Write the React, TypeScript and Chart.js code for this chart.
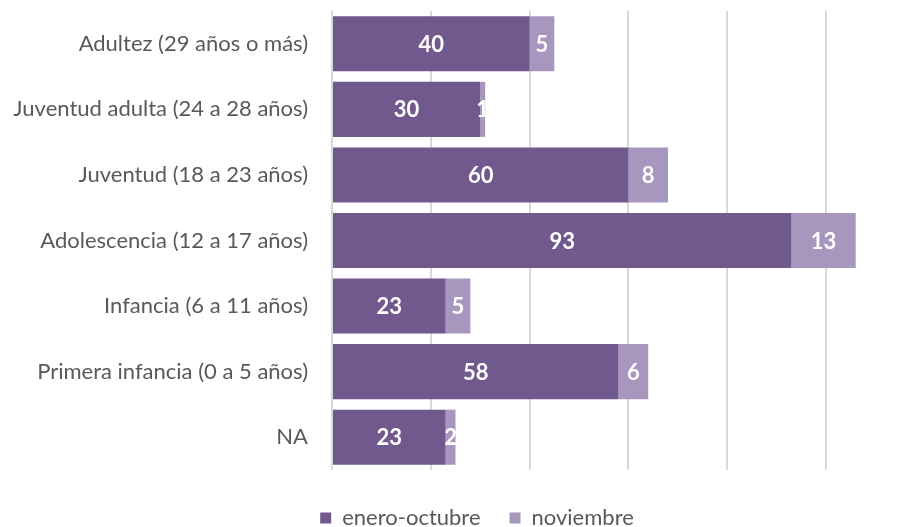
import React, { useEffect, useRef } from "react";
import { Chart, registerables } from "chart.js";

Chart.register(...registerables);

const categories = [
  "Adultez (29 años o más)",
  "Juventud adulta (24 a 28 años)",
  "Juventud (18 a 23 años)",
  "Adolescencia (12 a 17 años)",
  "Infancia (6 a 11 años)",
  "Primera infancia (0 a 5 años)",
  "NA",
];
const eneroOctubre = [40, 30, 60, 93, 23, 58, 23];
const noviembre = [5, 1, 8, 13, 5, 6, 2];
const seriesNames = ["enero-octubre", "noviembre"];
const colors = ["#71598e", "#a797bf"];

const FONT = "Lato, 'Open Sans', sans-serif";

const dataLabelPlugin = {
  id: "dataLabels",
  afterDatasetsDraw(chart: any) {
    const ctx = chart.ctx;
    ctx.save();
    ctx.font = `bold 22px ${FONT}`;
    ctx.fillStyle = "#ffffff";
    ctx.textAlign = "center";
    ctx.textBaseline = "middle";
    chart.data.datasets.forEach((ds: any, di: number) => {
      const meta = chart.getDatasetMeta(di);
      meta.data.forEach((bar: any, i: number) => {
        const p = bar.getProps(["x", "y", "base"], true);
        const cx = (p.x + p.base) / 2;
        ctx.fillText(String(ds.data[i]), cx, p.y + 1);
      });
    });
    ctx.restore();
  },
};

const legendShiftPlugin = {
  id: "legendShift",
  afterLayout(chart: any) {
    const l = chart.legend;
    if (!l) return;
    const dx = 20;
    const dy = -7;
    l.left += dx;
    l.right += dx;
    l.top += dy;
    l.bottom += dy;
  },
};

export default function App() {
  const ref = useRef<HTMLCanvasElement>(null);
  useEffect(() => {
    document.body.style.margin = "0";
    const chart = new Chart(ref.current!, {
      type: "bar",
      data: {
        labels: categories,
        datasets: [
          {
            label: seriesNames[0],
            data: eneroOctubre,
            backgroundColor: colors[0],
            categoryPercentage: 0.84,
            barPercentage: 1,
          },
          {
            label: seriesNames[1],
            data: noviembre,
            backgroundColor: colors[1],
            categoryPercentage: 0.84,
            barPercentage: 1,
          },
        ],
      },
      options: {
        indexAxis: "y",
        animation: false,
        responsive: false,
        maintainAspectRatio: false,
        layout: { autoPadding: false, padding: { top: 11, right: 0, bottom: -19, left: 0 } },
        scales: {
          x: {
            stacked: true,
            min: 0,
            max: 117.8,
            afterFit: (s: any) => {
              s.height = 15;
            },
            ticks: { display: false, stepSize: 20 },
            grid: {
              drawTicks: false,
              lineWidth: 2,
              color: (c: any) =>
                c.tick && c.tick.value % 20 === 0 ? "#d9d9d9" : "rgba(0,0,0,0)",
            },
            border: { display: false },
          },
          y: {
            stacked: true,
            afterFit: (s: any) => {
              s.width = 332;
              s.paddingTop = 0;
              s.paddingBottom = 0;
            },
            ticks: {
              padding: 24,
              color: "#595959",
              font: { family: FONT, size: 22 },
            },
            grid: { display: false, drawTicks: false },
            border: { display: false },
          },
        },
        plugins: {
          legend: {
            position: "bottom",
            labels: {
              boxWidth: 11,
              boxHeight: 11,
              color: "#595959",
              font: { family: FONT, size: 22 },
              padding: 29,
            },
          },
          tooltip: { enabled: false },
        },
      },
      plugins: [dataLabelPlugin, legendShiftPlugin],
    });
    return () => chart.destroy();
  }, []);
  return (
    <div style={{ width: 914, height: 527 }}>
      <canvas ref={ref} width={914} height={527} />
    </div>
  );
}
